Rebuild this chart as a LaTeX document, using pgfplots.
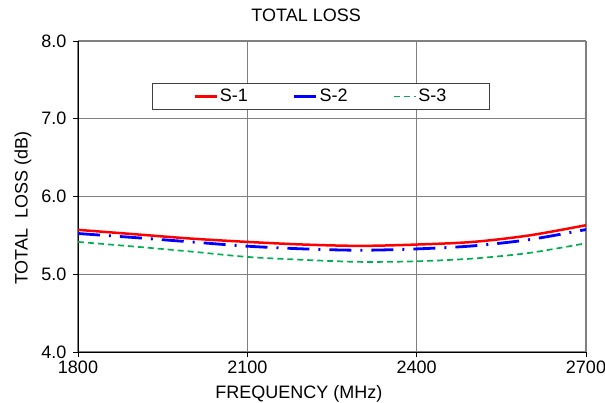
\documentclass[border=0pt]{standalone}
\usepackage{fontspec}
\setmainfont{Liberation Sans}
\usepackage{pgfplots}
\pgfplotsset{compat=1.18}
\definecolor{sred}{RGB}{255,0,0}
\definecolor{sblue}{RGB}{0,0,255}
\definecolor{sgreen}{RGB}{0,176,80}
\definecolor{gridgray}{RGB}{128,128,128}
\definecolor{leggray}{RGB}{64,64,64}
\begin{document}
\begin{tikzpicture}
\path[use as bounding box] (-78bp,-51bp) rectangle (527bp,352bp);
\begin{axis}[
  at={(0,0)}, anchor=south west,
  scale only axis, width=508bp, height=311bp,
  xmin=1800, xmax=2700, ymin=4, ymax=8,
  xtick={1800,2100,2400,2700}, ytick={4,5,6,7,8},
  axis lines*=left,
  axis line style={black, line width=0.9bp},
  grid=major,
  major grid style={gridgray, line width=1.2bp},
  tick align=outside, major tick length=5bp,
  tick style={black, line width=0.9bp},
  font=\fontsize{18bp}{21bp}\selectfont,
  /pgf/number format/assume math mode=true,
  y tick label style={xshift=-3bp, /pgf/number format/.cd, fixed, fixed zerofill, precision=1},
  x tick label style={/pgf/number format/.cd, 1000 sep={}},
  title={TOTAL LOSS},
  title style={at={(axis description cs:0.449,1)}, anchor=base, yshift=14bp},
  xlabel={FREQUENCY (MHz)},
  xlabel style={at={(axis description cs:0.435,0)}, anchor=base, yshift=-46bp},
  ylabel={TOTAL\ \ LOSS (dB)},
  ylabel style={at={(axis description cs:-0.0994,0.463)}, anchor=base},
  legend columns=3,
  legend style={at={(axis description cs:0.1457,0.865)}, anchor=north west,
    draw=leggray, line width=0.8bp, inner xsep=41bp, inner ysep=4bp,
    font=\fontsize{18bp}{21bp}\selectfont,
    /tikz/every even column/.append style={column sep=43bp}},
  legend image code/.code={\draw[#1] (0bp,0bp) -- (22bp,0bp);},
]
\addplot[sred, line width=2.5bp, smooth] coordinates {
 (1800,5.571) (1900,5.515) (2000,5.459) (2100,5.416) (2200,5.382)
 (2300,5.365) (2400,5.382) (2500,5.416) (2600,5.500) (2700,5.631)};
\addlegendentry{S-1}
\addplot[sblue, line width=2.8bp, smooth, dash pattern=on 22bp off 9bp on 2bp off 9bp] coordinates {
 (1800,5.524) (1900,5.472) (2000,5.416) (2100,5.361) (2200,5.326)
 (2300,5.309) (2400,5.326) (2500,5.365) (2600,5.446) (2700,5.575)};
\addlegendentry{S-2}
\addplot[sgreen, line width=1.7bp, smooth, dash pattern=on 6bp off 4bp] coordinates {
 (1800,5.416) (1900,5.356) (2000,5.292) (2100,5.223) (2200,5.185)
 (2300,5.159) (2400,5.167) (2500,5.202) (2600,5.275) (2700,5.399)};
\addlegendentry{S-3}
\end{axis}
\end{tikzpicture}
\end{document}
